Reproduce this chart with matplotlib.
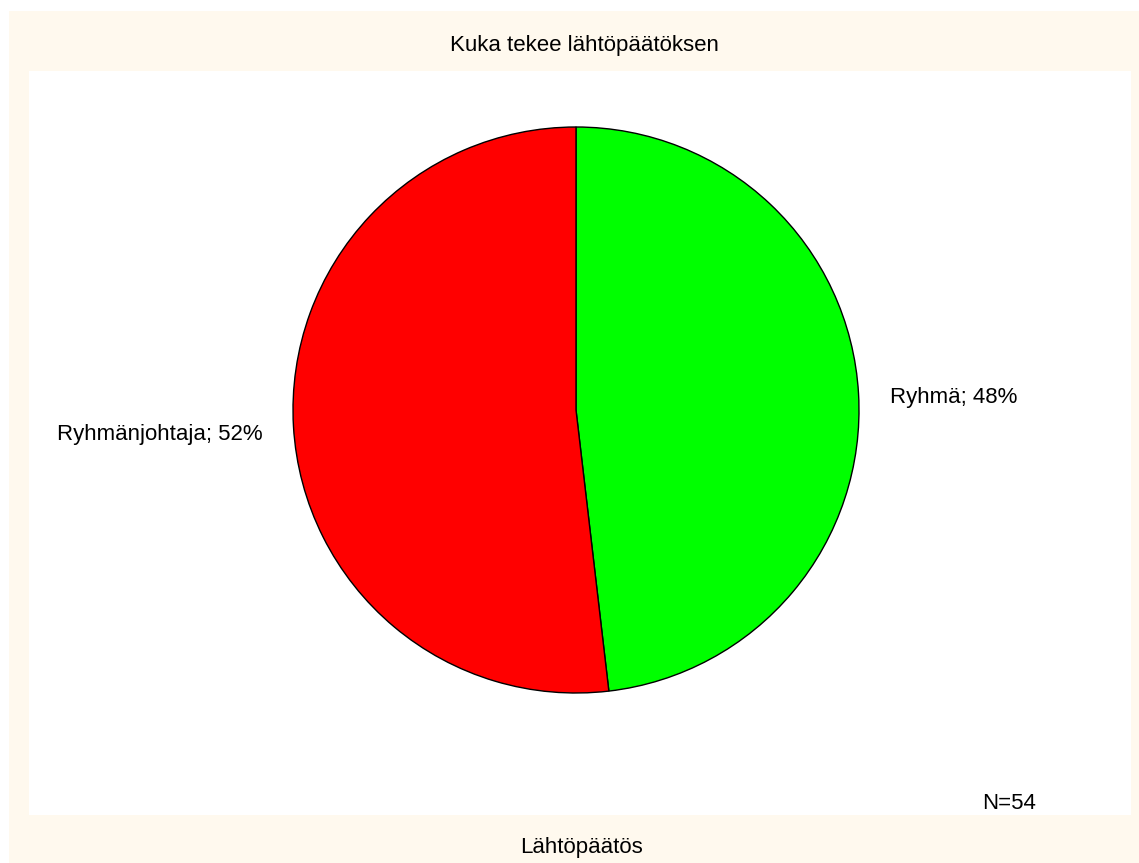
import matplotlib
matplotlib.use('Agg')
import matplotlib.pyplot as plt
from matplotlib.patches import Rectangle

plt.rcParams['font.family'] = ['Liberation Sans', 'DejaVu Sans']

# Vastaukset: kuka tekee lähtöpäätöksen
categories = ['Ryhmä', 'Ryhmänjohtaja']
counts = [26, 28]
colors = ['#00FF00', '#FF0000']
n_total = sum(counts)

W, H = 1139, 863
fig = plt.figure(figsize=(W / 100, H / 100), dpi=100)
fig.patch.set_facecolor('white')

# kermanvärinen tausta koko kaaviolle
fig.patches.append(Rectangle((9 / W, 0), (W - 9) / W, (H - 11) / H,
                             transform=fig.transFigure, facecolor='#FFF9EE',
                             edgecolor='none', zorder=-1))

# valkoinen piirtoalue, koordinaatit pikseleinä
x0, x1, y0, y1 = 29, 1131, 71, 815
ax = fig.add_axes([x0 / W, (H - y1) / H, (x1 - x0) / W, (y1 - y0) / H])
ax.set_facecolor('white')

cx, cy = 576, H - 410
labels = [f'{c}; {round(v / n_total * 100)}%' for c, v in zip(categories, counts)]
wedges, texts = ax.pie(counts, labels=labels, colors=colors, startangle=90,
                       counterclock=False, center=(cx, cy), radius=283,
                       labeldistance=1.11, frame=True,
                       wedgeprops=dict(edgecolor='black', linewidth=1),
                       textprops=dict(fontsize=16))
# tekstit keskipisteen eri puolille ja hieman alemmas
for t in texts:
    x, y = t.get_position()
    t.set_position((x, y - 6))
    t.set_ha('left' if x > cx else 'right')

ax.set_xlim(x0, x1)
ax.set_ylim(H - y1, H - y0)
ax.set_aspect('auto')
for s in ax.spines.values():
    s.set_visible(False)
ax.set_xticks([])
ax.set_yticks([])

fig.text(584 / W, 1 - 45 / H, 'Kuka tekee lähtöpäätöksen', ha='center',
         va='center', fontsize=16)
fig.text(582 / W, 1 - 847 / H, 'Lähtöpäätös', ha='center', va='center',
         fontsize=16)
ax.text(1009, H - 803, f'N={n_total}', ha='center', va='center', fontsize=16)

plt.savefig('out.png', dpi=100)
